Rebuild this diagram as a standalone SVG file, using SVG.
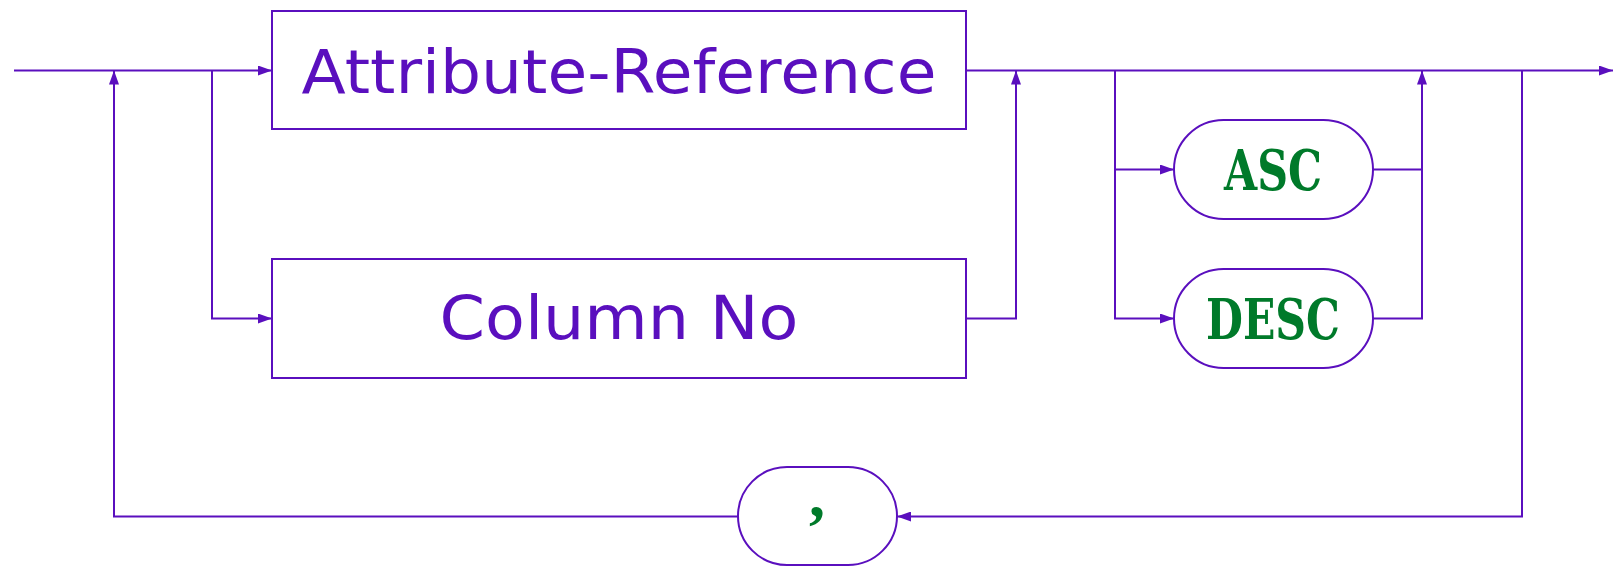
<svg xmlns="http://www.w3.org/2000/svg" width="1613" height="566" viewBox="0 0 1613 566">
<style>
.ln{fill:none;stroke:#5a0fbe;stroke-width:2}
.box{fill:#fff;stroke:#5a0fbe;stroke-width:2}
.nt{font-family:"DejaVu Sans",sans-serif;fill:#5a0fbe;font-size:60px}
.t{font-family:"DejaVu Serif",serif;font-weight:bold;fill:#007a2a;font-size:56px}
</style>
<defs>
<marker id="ah" viewBox="0 0 14 10" refX="14" refY="5" markerWidth="14" markerHeight="10" markerUnits="userSpaceOnUse" orient="auto">
<path d="M0,0L14,5L0,10z" fill="#5a0fbe"/>
</marker>
</defs>
<g id="connectors">
<path class="ln" d="M14,70.5H272" marker-end="url(#ah)"/>
<path class="ln" d="M212,70.5V318.5H272" marker-end="url(#ah)"/>
<path class="ln" d="M966,70.5H1613" marker-end="url(#ah)"/>
<path class="ln" d="M966,318.5H1016V70.5" marker-end="url(#ah)"/>
<path class="ln" d="M1115,70.5V169.5H1174" marker-end="url(#ah)"/>
<path class="ln" d="M1115,169.5V318.5H1174" marker-end="url(#ah)"/>
<path class="ln" d="M1373,169.5H1422V70.5" marker-end="url(#ah)"/>
<path class="ln" d="M1373,318.5H1422V169.5"/>
<path class="ln" d="M1522,70.5V516.5H897" marker-end="url(#ah)"/>
<path class="ln" d="M738,516.5H114V70.5" marker-end="url(#ah)"/>
</g>
<g id="attr-ref">
<rect class="box" x="272" y="11" width="694" height="118"/>
<text class="nt" x="619" y="93" text-anchor="middle" textLength="635" lengthAdjust="spacingAndGlyphs">Attribute-Reference</text>
</g>
<g id="column-no">
<rect class="box" x="272" y="259" width="694" height="119"/>
<text class="nt" x="619" y="339" text-anchor="middle" textLength="359" lengthAdjust="spacingAndGlyphs">Column No</text>
</g>
<g id="asc">
<rect class="box" x="1174" y="120" width="199" height="99" rx="49.5"/>
<text class="t" x="1273" y="190" text-anchor="middle" textLength="98" lengthAdjust="spacingAndGlyphs">ASC</text>
</g>
<g id="desc">
<rect class="box" x="1174" y="269" width="199" height="99" rx="49.5"/>
<text class="t" x="1273" y="339" text-anchor="middle" textLength="134" lengthAdjust="spacingAndGlyphs">DESC</text>
</g>
<g id="comma">
<rect class="box" x="738" y="467" width="159" height="98" rx="49"/>
<text x="817" y="516" text-anchor="middle" style="font-family:'Liberation Serif',serif;font-weight:bold;fill:#007a2a;font-size:64px">,</text>
</g>
</svg>
